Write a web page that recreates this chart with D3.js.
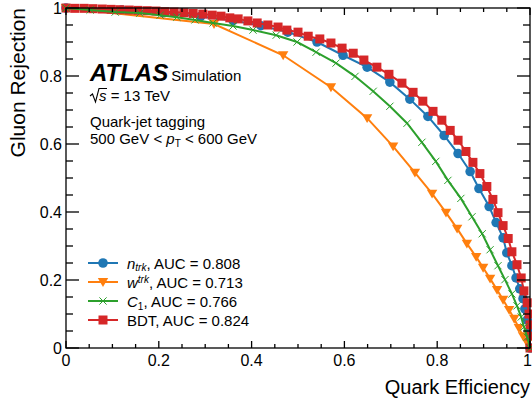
<!DOCTYPE html>
<html>
<head>
<meta charset="utf-8">
<script src="https://cdn.jsdelivr.net/npm/d3@7"></script>
<style>
  body { margin: 0; background: #fff; }
  svg { display: block; font-family: "Liberation Sans", Arial, Helvetica, sans-serif; }
</style>
</head>
<body>
<div id="chart"></div>
<script>
// quark efficiency (x) vs gluon rejection (y)
var effNtrk = [0, 0.12, 0.21, 0.29, 0.36, 0.42, 0.478, 0.541, 0.597, 0.649, 0.698, 0.741, 0.780, 0.815, 0.845, 0.871, 0.890, 0.912, 0.927, 0.942, 0.950, 0.961, 0.970, 0.978, 0.985, 0.989, 0.994, 0.998, 1];
var rejNtrk = [1, 0.994, 0.986, 0.975, 0.963, 0.948, 0.929, 0.900, 0.861, 0.826, 0.782, 0.732, 0.681, 0.625, 0.572, 0.519, 0.469, 0.416, 0.369, 0.324, 0.280, 0.242, 0.206, 0.174, 0.145, 0.115, 0.083, 0.047, 0];

var effWtrk = [0, 0.319, 0.468, 0.571, 0.649, 0.705, 0.752, 0.789, 0.819, 0.843, 0.864, 0.884, 0.899, 0.914, 0.929, 0.942, 0.955, 0.966, 0.976, 0.985, 0.994, 1];
var rejWtrk = [1, 0.953, 0.861, 0.767, 0.676, 0.593, 0.516, 0.454, 0.398, 0.351, 0.307, 0.268, 0.236, 0.204, 0.171, 0.142, 0.112, 0.086, 0.059, 0.035, 0.015, 0];

var effC1 = [0, 0.052, 0.106, 0.159, 0.203, 0.239, 0.278, 0.317, 0.360, 0.403, 0.453, 0.498, 0.539, 0.582, 0.623, 0.662, 0.698, 0.735, 0.767, 0.797, 0.823, 0.851, 0.875, 0.897, 0.914, 0.931, 0.946, 0.961, 0.972, 0.981, 0.987, 0.994, 1];
var rejC1 = [1, 0.994, 0.988, 0.985, 0.979, 0.973, 0.965, 0.956, 0.947, 0.935, 0.920, 0.900, 0.870, 0.838, 0.799, 0.755, 0.711, 0.661, 0.605, 0.549, 0.493, 0.440, 0.386, 0.336, 0.289, 0.242, 0.201, 0.159, 0.124, 0.091, 0.062, 0.032, 0];

var effBDT = [0, 0.019, 0.039, 0.058, 0.078, 0.097, 0.116, 0.136, 0.155, 0.175, 0.194, 0.213, 0.233, 0.254, 0.274, 0.295, 0.315, 0.334, 0.353, 0.371, 0.392, 0.412, 0.435, 0.457, 0.476, 0.500, 0.522, 0.547, 0.571, 0.595, 0.619, 0.642, 0.670, 0.696, 0.724, 0.748, 0.769, 0.791, 0.810, 0.828, 0.845, 0.862, 0.877, 0.892, 0.907, 0.920, 0.931, 0.942, 0.953, 0.961, 0.972, 0.981, 0.987, 0.994, 0.998, 1, 1, 1];
var rejBDT = [1, 0.999, 0.999, 0.998, 0.997, 0.996, 0.995, 0.994, 0.993, 0.992, 0.991, 0.989, 0.988, 0.986, 0.984, 0.982, 0.979, 0.976, 0.971, 0.968, 0.962, 0.956, 0.950, 0.944, 0.935, 0.929, 0.917, 0.909, 0.897, 0.882, 0.867, 0.847, 0.826, 0.805, 0.779, 0.752, 0.726, 0.696, 0.670, 0.640, 0.611, 0.578, 0.546, 0.513, 0.475, 0.437, 0.398, 0.360, 0.322, 0.283, 0.245, 0.206, 0.168, 0.133, 0.100, 0.068, 0.035, 0];

var seriesNames = ["ntrk", "wtrk", "C1", "BDT"];
var aucValues = ["0.808", "0.713", "0.766", "0.824"];
var tickValues = [0, 0.2, 0.4, 0.6, 0.8, 1];
var tickLabels = ["0", "0.2", "0.4", "0.6", "0.8", "1"];

var width = 532, height = 405;
var margin = {top: 8, right: 2, bottom: 57, left: 66};

var svg = d3.select("#chart").append("svg")
    .attr("width", width)
    .attr("height", height);

var x = d3.scaleLinear().domain([0, 1]).range([margin.left, width - margin.right]);
var y = d3.scaleLinear().domain([0, 1]).range([height - margin.bottom, margin.top]);

var colors = {ntrk: "#1f77b4", wtrk: "#ff7f0e", C1: "#2ca02c", BDT: "#d62728"};

var series = {
    ntrk: d3.zip(effNtrk, rejNtrk),
    wtrk: d3.zip(effWtrk, rejWtrk),
    C1: d3.zip(effC1, rejC1),
    BDT: d3.zip(effBDT, rejBDT)
};

var line = d3.line().x(d => x(d[0])).y(d => y(d[1]));

// marker shapes
function marker(sel, name, cx, cy) {
    var c = colors[name];
    if (name == "ntrk") {
        sel.append("circle").attr("cx", cx).attr("cy", cy).attr("r", 4.8).attr("fill", c);
    } else if (name == "wtrk") {
        var s = 5.2;
        sel.append("path")
            .attr("d", `M${cx - s},${cy - s * 0.75}L${cx + s},${cy - s * 0.75}L${cx},${cy + s * 0.95}Z`)
            .attr("fill", c);
    } else if (name == "BDT") {
        sel.append("rect").attr("x", cx - 4.5).attr("y", cy - 4.5)
            .attr("width", 9).attr("height", 9).attr("fill", c);
    } else {
        var h = 3.6;
        sel.append("path")
            .attr("d", `M${cx - h},${cy - h}L${cx + h},${cy + h}M${cx - h},${cy + h}L${cx + h},${cy - h}`)
            .attr("stroke", c).attr("stroke-width", 1).attr("fill", "none");
    }
}

var plot = svg.append("g");
["ntrk", "wtrk", "BDT", "C1"].forEach(function(name) {
    var g = plot.append("g");
    g.append("path")
        .datum(series[name])
        .attr("d", line)
        .attr("fill", "none")
        .attr("stroke", colors[name])
        .attr("stroke-width", 2);
    series[name].forEach(d => marker(g, name, x(d[0]), y(d[1])));
});

// frame + ticks (inward, on all four sides)
var x0 = x(0), x1 = x(1), y0 = y(0), y1 = y(1);
var axes = svg.append("g").attr("stroke", "#000").attr("stroke-width", 1.3);
axes.append("rect")
    .attr("x", x0).attr("y", y1)
    .attr("width", x1 - x0).attr("height", y0 - y1)
    .attr("fill", "none");

var minors = d3.range(0, 1.0001, 0.05);
minors.forEach(function(v, i) {
    var major = i % 4 == 0;
    var lx = major ? 7 : 4;
    var ly = major ? 13 : 7;
    axes.append("line").attr("x1", x(v)).attr("x2", x(v)).attr("y1", y0).attr("y2", y0 - lx);
    axes.append("line").attr("x1", x(v)).attr("x2", x(v)).attr("y1", y1).attr("y2", y1 + lx);
    axes.append("line").attr("x1", x0).attr("x2", x0 + ly).attr("y1", y(v)).attr("y2", y(v));
    axes.append("line").attr("x1", x1).attr("x2", x1 - ly).attr("y1", y(v)).attr("y2", y(v));
});

var labels = svg.append("g").attr("font-size", 16).attr("fill", "#000");
tickValues.forEach(function(v, i) {
    var last = i == tickValues.length - 1;
    labels.append("text")
        .attr("x", last ? width : x(v)).attr("y", y0 + 18)
        .attr("text-anchor", last ? "end" : "middle")
        .text(tickLabels[i]);
    labels.append("text")
        .attr("x", x0 - 4).attr("y", y(v) + 6)
        .attr("text-anchor", "end")
        .text(tickLabels[i]);
});

svg.append("text")
    .attr("x", x1).attr("y", 394)
    .attr("text-anchor", "end")
    .attr("font-size", 20)
    .text("Quark Efficiency");

svg.append("text")
    .attr("transform", `translate(25,${y1}) rotate(-90)`)
    .attr("text-anchor", "end")
    .attr("font-size", 21)
    .text("Gluon Rejection");

// ATLAS label
var info = svg.append("g").attr("fill", "#000");
var atl = info.append("text").attr("x", 90).attr("y", 81)
    .attr("font-size", 24).attr("font-weight", "bold").attr("font-style", "italic")
    .text("ATLAS");
var atlW = atl.node().getComputedTextLength();
info.append("text").attr("x", 90 + atlW + 3).attr("y", 81)
    .attr("font-size", 15)
    .text("Simulation");

// sqrt(s) drawn as a radical path + italic s
info.append("path")
    .attr("d", "M90,96 L92.5,94 L95.5,102 L99,88.5 L107,88.5")
    .attr("fill", "none").attr("stroke", "#000").attr("stroke-width", 1.1);
var rt = info.append("text").attr("x", 99).attr("y", 101).attr("font-size", 15);
rt.append("tspan").attr("font-style", "italic").text("s");
rt.append("tspan").text(" = 13 TeV");

info.append("text").attr("x", 90).attr("y", 127).attr("font-size", 15)
    .text("Quark-jet tagging");
var pt = info.append("text").attr("x", 90).attr("y", 144).attr("font-size", 15);
pt.append("tspan").text("500 GeV < ");
pt.append("tspan").attr("font-style", "italic").text("p");
pt.append("tspan").attr("font-size", 10).attr("dy", 3).text("T");
pt.append("tspan").attr("dy", -3).text(" < 600 GeV");

// legend
var leg = svg.append("g");
seriesNames.forEach(function(name, i) {
    var ly = 263 + i * 19;
    var g = leg.append("g");
    g.append("line").attr("x1", 88).attr("x2", 118).attr("y1", ly).attr("y2", ly)
        .attr("stroke", colors[name]).attr("stroke-width", 2);
    marker(g, name, 103, ly);
    var t = g.append("text").attr("x", 127).attr("y", ly + 5.5).attr("font-size", 15);
    if (name == "ntrk") {
        t.append("tspan").attr("font-style", "italic").text("n");
        t.append("tspan").attr("font-style", "italic").attr("font-size", 10).attr("dy", 2.5).text("trk");
        t.append("tspan").attr("dy", -2.5).text(", AUC = " + aucValues[i]);
    } else if (name == "wtrk") {
        t.append("tspan").attr("font-style", "italic").text("w");
        t.append("tspan").attr("font-style", "italic").attr("font-size", 10).attr("dy", -5).text("trk");
        t.append("tspan").attr("dy", 5).text(", AUC = " + aucValues[i]);
    } else if (name == "C1") {
        t.append("tspan").attr("font-style", "italic").text("C");
        t.append("tspan").attr("font-size", 10).attr("dy", 3).text("1");
        t.append("tspan").attr("dy", -3).text(", AUC = " + aucValues[i]);
    } else {
        t.text("BDT, AUC = " + aucValues[i]);
    }
});
</script>
</body>
</html>
